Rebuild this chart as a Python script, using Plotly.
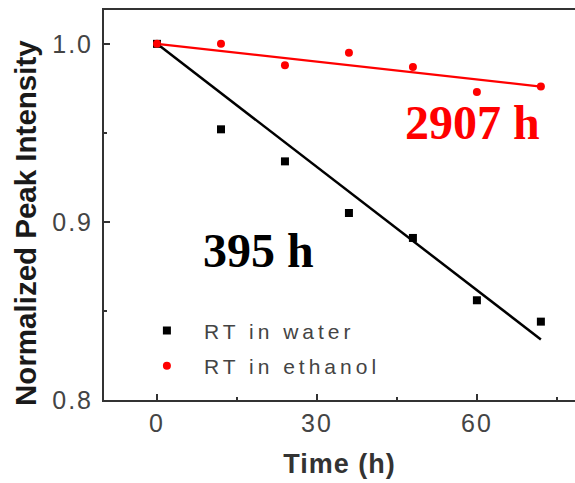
import plotly.graph_objects as go

# Aging time (h) and normalized peak intensity of the two samples
time_h = [0, 12, 24, 36, 48, 60, 72]
water = [1.000, 0.952, 0.934, 0.905, 0.891, 0.856, 0.844]
ethanol = [1.000, 1.000, 0.988, 0.995, 0.987, 0.973, 0.976]

# Linear fit lines (start / end)
fit_x = [0, 72]
water_fit = [1.000, 0.834]
ethanol_fit = [1.000, 0.976]

# Extrapolated lifetimes
water_life = "395 h"
ethanol_life = "2907 h"

# Tick labels
x_ticks = [0, 30, 60]
y_ticks = [0.8, 0.9, 1.0]
y_ticklabels = ["0.8", "0.9", "1.0"]


def spaced(text, px):
    return f'<span style="letter-spacing:{px}px">{text}</span>'


AX = "#333333"
SANS = "Liberation Sans, Arial, sans-serif"
TICKFONT = dict(family=SANS, size=25, color="#444444")

fig = go.Figure()

fig.add_trace(go.Scatter(x=fit_x, y=water_fit, mode="lines",
                         line=dict(color="black", width=2.5),
                         showlegend=False, hoverinfo="skip"))
fig.add_trace(go.Scatter(x=fit_x, y=ethanol_fit, mode="lines",
                         line=dict(color="#ff0000", width=2.2),
                         showlegend=False, hoverinfo="skip"))
fig.add_trace(go.Scatter(x=time_h, y=water, mode="markers",
                         name=spaced("RT in water", 4), legendgroup="w",
                         marker=dict(symbol="square", size=8, color="black")))
fig.add_trace(go.Scatter(x=time_h, y=ethanol, mode="markers",
                         name=spaced("RT in ethanol", 4), legendgroup="e",
                         marker=dict(symbol="circle", size=8, color="#ff0000")))

fig.add_annotation(x=19.1, y=0.884, xref="x", yref="y", text=f"<b>{water_life}</b>",
                   showarrow=False, xanchor="center", yanchor="middle",
                   font=dict(family="Liberation Serif, Times New Roman, serif",
                             size=48, color="black"))
fig.add_annotation(x=59.1, y=0.956, xref="x", yref="y", text=f"<b>{ethanol_life}</b>",
                   showarrow=False, xanchor="center", yanchor="middle",
                   font=dict(family="Liberation Serif, Times New Roman, serif",
                             size=48, color="#ff0000"))

# Y-axis title placed as a rotated annotation left of the tick labels
fig.add_annotation(x=-0.1656, y=0.454, xref="paper", yref="paper",
                   text="<b>Normalized Peak Intensity</b>", textangle=-90,
                   showarrow=False, xanchor="center", yanchor="middle",
                   font=dict(family=SANS, size=29.5, color="#1a1a1a"))

fig.update_layout(
    width=575, height=483,
    margin=dict(l=104, r=0, t=10, b=83),
    plot_bgcolor="white", paper_bgcolor="white",
    showlegend=True,
    legend=dict(x=0.055, y=0.23, xanchor="left", yanchor="top",
                bgcolor="rgba(0,0,0,0)", itemwidth=64, tracegroupgap=5,
                font=dict(family=SANS, size=21, color="#444444")),
    xaxis=dict(range=[-9.94, 78.4], tickvals=x_ticks,
               ticktext=[spaced(str(v), 2) for v in x_ticks], ticks="inside",
               ticklen=6, tickwidth=2, tickcolor=AX,
               showline=True, linecolor=AX, linewidth=2, mirror=True,
               showgrid=False, zeroline=False, tickfont=TICKFONT,
               minor=dict(dtick=15, tick0=0, ticks="inside", ticklen=3,
                          tickwidth=2, tickcolor=AX, showgrid=False),
               title=dict(text="<b>" + spaced("Time (h)", 1) + "</b>", standoff=18,
                          font=dict(family=SANS, size=27, color="#333333"))),
    yaxis=dict(range=[0.8, 1.019], tickvals=y_ticks,
               ticktext=[spaced(t, 2) for t in y_ticklabels], ticks="inside",
               ticklen=6, tickwidth=2, tickcolor=AX, ticklabelstandoff=4,
               showline=True, linecolor=AX, linewidth=2, mirror=False,
               showgrid=False, zeroline=False, tickfont=TICKFONT,
               minor=dict(dtick=0.05, tick0=0.8, ticks="inside", ticklen=3,
                          tickwidth=2, tickcolor=AX, showgrid=False)),
)

fig.write_html("out.html")
